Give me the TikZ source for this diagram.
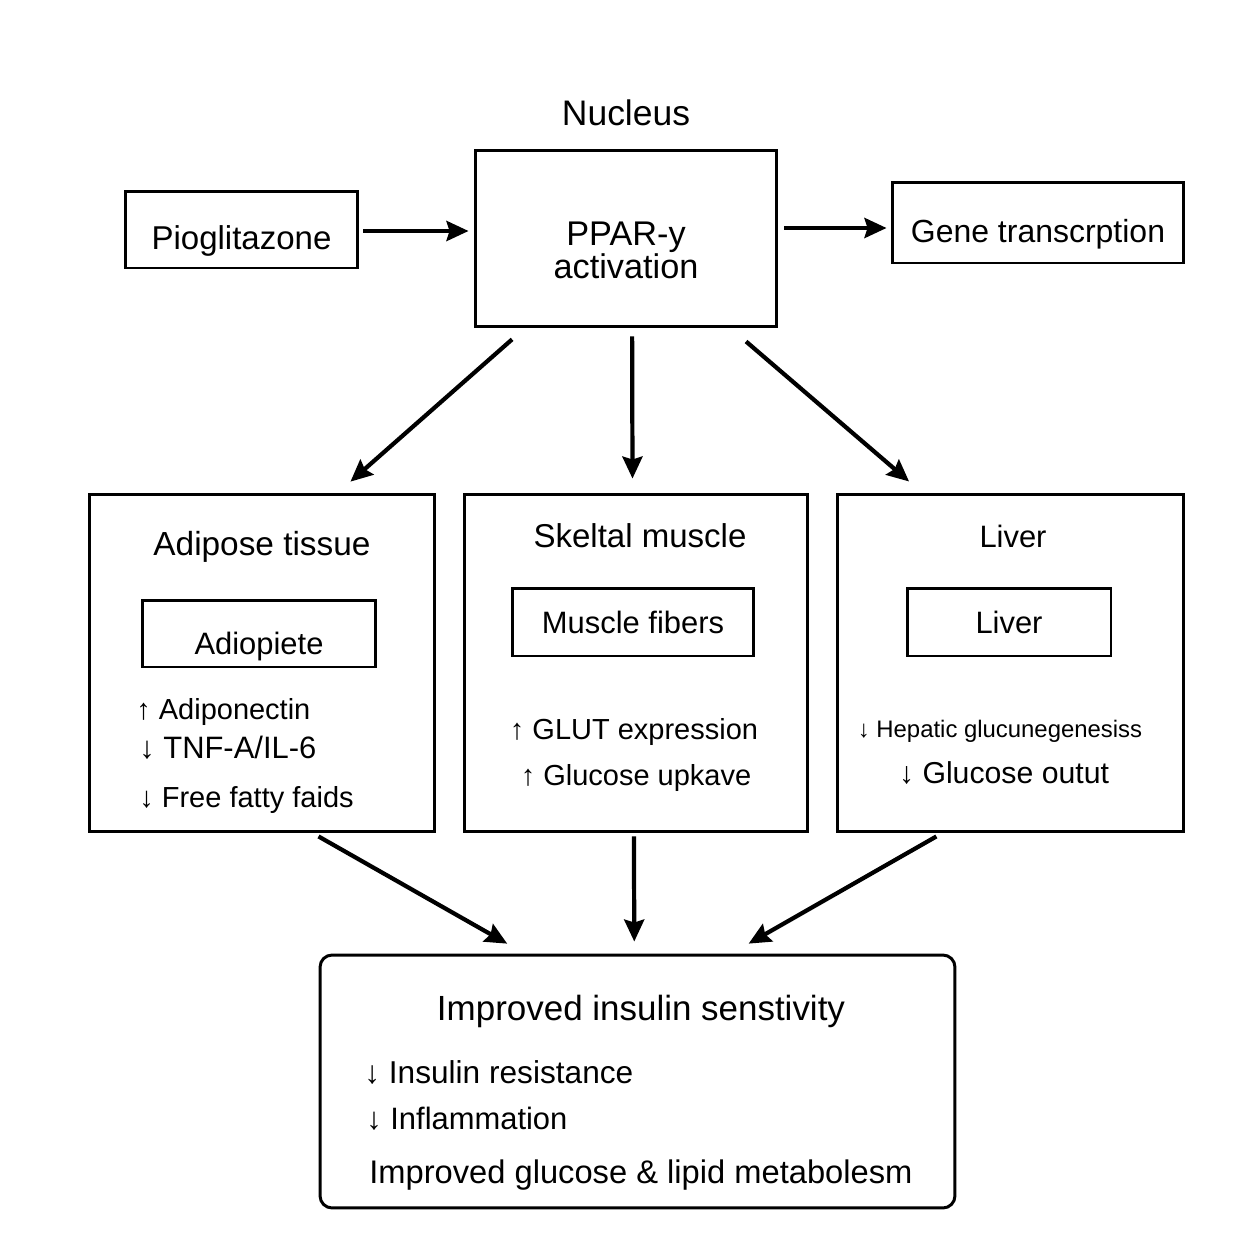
\documentclass[tikz,border=0pt]{standalone}
\usepackage{fontspec}
\setmainfont{Liberation Sans}
\usetikzlibrary{arrows.meta,positioning,calc}

\tikzset{
    box/.style={draw, line width=1.7pt, inner sep=0pt, align=center},
    flow/.style={-{Stealth[length=0.44cm,width=0.4cm,inset=0.06cm]}, line width=2.4pt},
    big/.style={font=\fontsize{18.8}{22}\selectfont},
    mid/.style={font=\fontsize{17.6}{21}\selectfont},
    sml/.style={font=\fontsize{16.5}{20}\selectfont},
    item/.style={inner sep=0pt}
}

\begin{document}
\begin{tikzpicture}[x=0.02cm, y=-0.02cm]
            \useasboundingbox (0,0) rectangle (1250,1254);
            \fill[white] (0,0) rectangle (1250,1254);

            \node[font=\fontsize{20.2}{24}\selectfont] (nucleus) at (626,113) {Nucleus};
            \node[box, big, minimum width=4.66cm, minimum height=1.54cm] (pio) at (241.5,229.5) {\raisebox{-0.22cm}[\height][\depth]{Pioglitazone}};
            \node[box, font=\fontsize{19.5}{23}\selectfont, minimum width=6.04cm, minimum height=3.54cm] (ppar) at (626,238.5) {\raisebox{-0.3cm}[\height][\depth]{\begin{tabular}{c}PPAR-y\\[-0.15cm]activation\end{tabular}}};
            \node[box, font=\fontsize{18.2}{22}\selectfont, minimum width=5.84cm, minimum height=1.62cm] (gene) at (1038,222.5) {\raisebox{-0.24cm}[\height][\depth]{Gene transcrption}};

            \node[box, minimum width=6.92cm, minimum height=6.76cm] (adip) at (262,663) {};
            \node[box, minimum width=6.88cm, minimum height=6.76cm] (skel) at (636,663) {};
            \node[box, minimum width=6.94cm, minimum height=6.76cm] (liver) at (1010.5,663) {};

            \node[font=\fontsize{19}{23}\selectfont] (adiptitle) at (262,547) {Adipose tissue};
            \node[big] (skeltitle) at (640,536) {Skeltal muscle};
            \node[mid] (livertitle) at (1013,536) {Liver};

            \node[box, mid, minimum width=4.68cm, minimum height=1.34cm] (adipinner) at (259,633.5) {\raisebox{-0.26cm}[\height][\depth]{Adiopiete}};
            \node[box, mid, minimum width=4.84cm, minimum height=1.36cm] (skelinner) at (633,622) {Muscle fibers};
            \node[box, mid, minimum width=4.08cm, minimum height=1.36cm] (liverinner) at (1009,622) {Liver};

            \node[item, sml, anchor=west] (adipone) at (136,712) {↑ Adiponectin};
            \node[item, mid, anchor=west] (tnf) at (139,748) {↓ TNF-A/IL-6};
            \node[item, sml, anchor=west] (ffa) at (139,800) {↓ Free fatty faids};

            \node[item, sml] (glut) at (634,732) {↑ GLUT expression};
            \node[item, sml] (uptake) at (636,778) {↑ Glucose upkave};

            \node[item, font=\fontsize{13.6}{16}\selectfont] (hepatic) at (1000,731) {↓ Hepatic glucunegenesiss};
            \node[item, font=\fontsize{17.2}{20}\selectfont] (output) at (1004,773) {↓ Glucose outut};

            \node[box, rounded corners=0.24cm, minimum width=12.7cm, minimum height=5.06cm] (result) at (637.5,1081.5) {};
            \node[font=\fontsize{19.9}{24}\selectfont] (resulttitle) at (641,1011) {Improved insulin senstivity};
            \node[item, font=\fontsize{18}{22}\selectfont, anchor=west] (resist) at (364,1072) {↓ Insulin resistance};
            \node[item, mid, anchor=west] (inflam) at (366,1119) {↓ Inflammation};
            \node[item, font=\fontsize{18.6}{22}\selectfont, anchor=west] (metab) at (369,1175) {Improved glucose \& lipid metabolesm};

            \draw[flow, shorten <=0.08cm, shorten >=0.1cm] ($(pio.east)+(0,1.5)$) -- ($(ppar.west |- pio.east)+(0,1.5)$);
            \draw[flow, shorten <=0.12cm, shorten >=0.08cm] ($(ppar.east |- gene.west)+(0,5.5)$) -- ($(gene.west)+(0,5.5)$);

            \draw[flow, shorten <=0.33cm, shorten >=0.33cm] ($(ppar.south west)!0.167!(ppar.south east)$) -- ($(adip.north west)!0.718!(adip.north east)$);
            \draw[flow, shorten <=0.16cm, shorten >=0.28cm] ($(ppar.south west)!0.52!(ppar.south east)$) -- ($(skel.north west)!0.49!(skel.north east)$);
            \draw[flow, shorten <=0.4cm, shorten >=0.34cm] ($(ppar.south west)!0.844!(ppar.south east)$) -- ($(liver.north west)!0.247!(liver.north east)$);

            \draw[flow, shorten <=0.12cm, shorten >=0.4cm] ($(adip.south west)!0.647!(adip.south east)$) -- ($(result.north west)!0.323!(result.north east)$);
            \draw[flow, shorten <=0.06cm, shorten >=0.24cm] ($(skel.south west)!0.494!(skel.south east)$) -- ($(result.north west)!0.495!(result.north east)$);
            \draw[flow, shorten <=0.12cm, shorten >=0.4cm] ($(liver.south west)!0.303!(liver.south east)$) -- ($(result.north west)!0.647!(result.north east)$);
        \end{tikzpicture}
\end{document}
